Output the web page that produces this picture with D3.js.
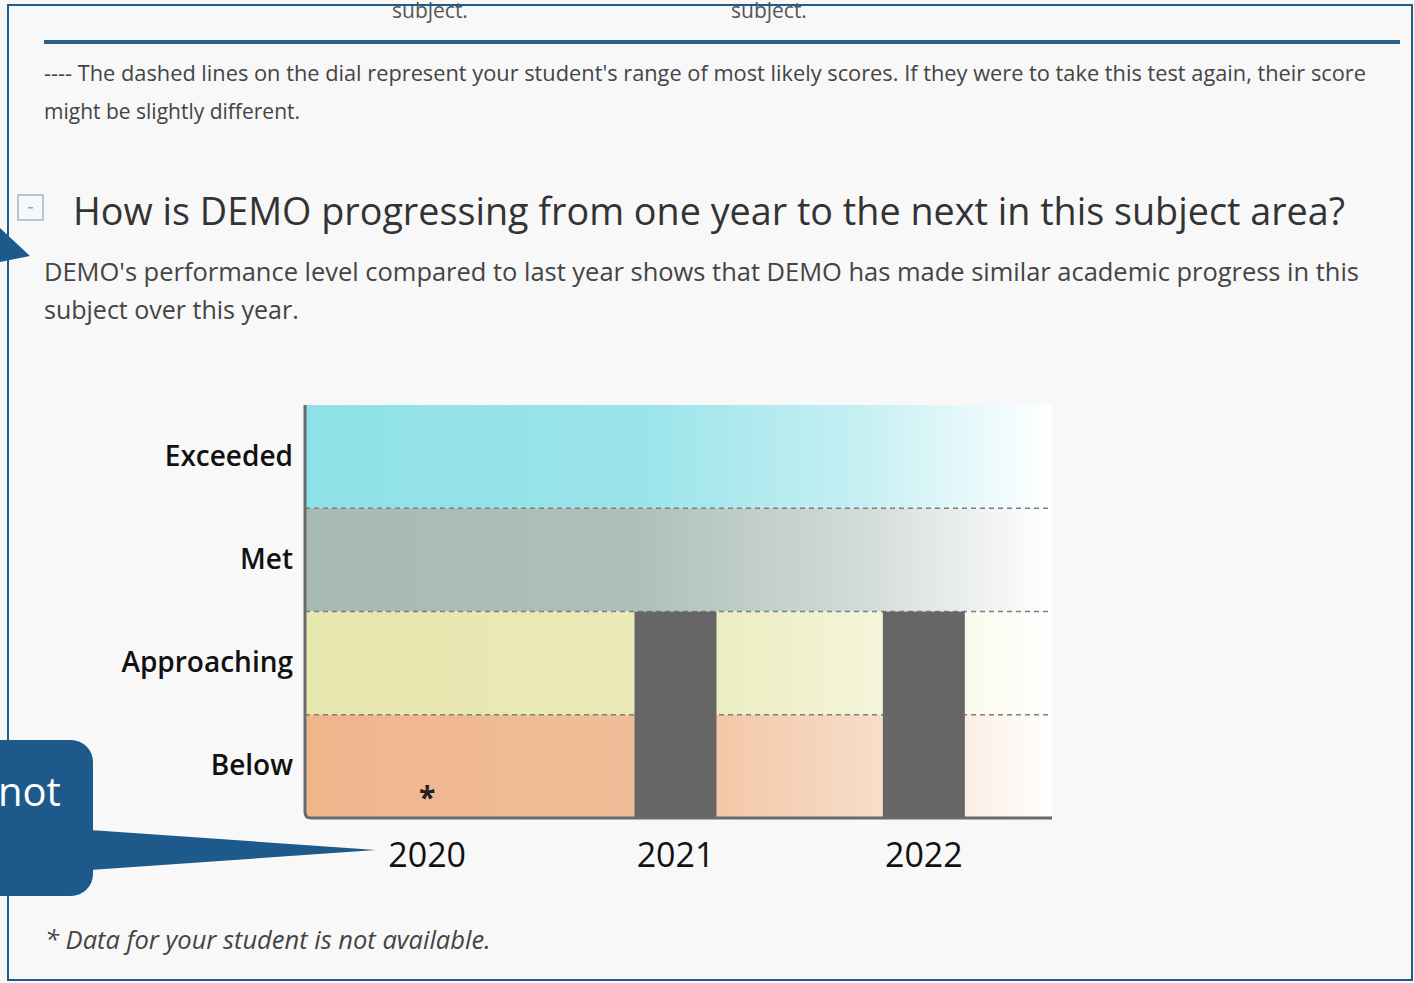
<!DOCTYPE html>
<html lang="en">
<head>
    <meta charset="UTF-8">
    <title>Progress from year to year</title>
    <script src="https://d3js.org/d3.v7.min.js"></script>
    <style>
        body { margin: 0; background: #f7f7f7; font-family: "Open Sans", sans-serif; }
        svg { display: block; }
    </style>
</head>
<body>
    <svg id="chart" width="1414" height="983"></svg>
    <script>
        // data
        const years = ["2020", "2021", "2022"];
        const levels = ["Exceeded", "Met", "Approaching", "Below"];
        const studentLevel = [null, "Approaching", "Approaching"];   // null = not available
        const levelColors = ["#8fe1e8", "#a6b9b3", "#e7e8ae", "#efb68c"];

        const svg = d3.select("#chart");

        // page frame
        svg.append("rect").attr("x", 8).attr("y", 5).attr("width", 1404).attr("height", 975)
            .attr("fill", "#f8f8f8").attr("stroke", "#1f5b8c").attr("stroke-width", 2);

        // clipped text from the section above
        svg.append("text").attr("x", 392).attr("y", 18).attr("font-size", 21).attr("fill", "#555").text("subject.");
        svg.append("text").attr("x", 731).attr("y", 18).attr("font-size", 21).attr("fill", "#555").text("subject.");
        svg.append("rect").attr("x", 44).attr("y", 40).attr("width", 1356).attr("height", 4).attr("fill", "#2c5f8a");

        svg.append("text").attr("x", 44).attr("y", 81).attr("font-size", 21).attr("fill", "#444")
            .attr("textLength", 1322).attr("lengthAdjust", "spacingAndGlyphs")
            .text("---- The dashed lines on the dial represent your student's range of most likely scores. If they were to take this test again, their score");
        svg.append("text").attr("x", 44).attr("y", 119).attr("font-size", 21).attr("fill", "#444")
            .text("might be slightly different.");

        // collapse icon + heading
        svg.append("rect").attr("x", 18).attr("y", 195).attr("width", 25).attr("height", 25)
            .attr("fill", "none").attr("stroke", "#8aa8c0").attr("stroke-width", 1.2);
        svg.append("rect").attr("x", 28).attr("y", 207).attr("width", 5).attr("height", 1.5).attr("fill", "#8aa8c0");
        svg.append("text").attr("x", 73).attr("y", 225).attr("font-size", 38).attr("fill", "#333")
            .attr("textLength", 1272).attr("lengthAdjust", "spacingAndGlyphs")
            .text("How is DEMO progressing from one year to the next in this subject area?");
        svg.append("text").attr("x", 44).attr("y", 281).attr("font-size", 25).attr("fill", "#444")
            .attr("textLength", 1315).attr("lengthAdjust", "spacingAndGlyphs")
            .text("DEMO's performance level compared to last year shows that DEMO has made similar academic progress in this");
        svg.append("text").attr("x", 44).attr("y", 319).attr("font-size", 25).attr("fill", "#444")
            .text("subject over this year.");

        // chart
        const x0 = 305, x1 = 1052, yTop = 405, yBot = 818;
        const x = d3.scaleBand().domain(years).range([303, 1048]);
        const y = d3.scaleBand().domain(levels).range([yTop, yBot]);
        const barW = 82;

        const defs = svg.append("defs");
        levels.forEach((lv, i) => {
            const g = defs.append("linearGradient").attr("id", "grad" + i);
            g.append("stop").attr("offset", "0%").attr("stop-color", levelColors[i]);
            g.append("stop").attr("offset", "45%").attr("stop-color", d3.interpolateRgb(levelColors[i], "#fff")(0.1));
            g.append("stop").attr("offset", "75%").attr("stop-color", d3.interpolateRgb(levelColors[i], "#fff")(0.5));
            g.append("stop").attr("offset", "100%").attr("stop-color", "#ffffff");
        });

        const chart = svg.append("g");
        chart.selectAll(".band").data(levels).enter().append("rect")
            .attr("x", x0).attr("y", d => y(d)).attr("width", x1 - x0).attr("height", y.bandwidth())
            .attr("fill", (d, i) => `url(#grad${i})`);

        chart.selectAll(".divider").data(levels.slice(1)).enter().append("line")
            .attr("x1", x0).attr("x2", x1).attr("y1", d => y(d)).attr("y2", d => y(d))
            .attr("stroke", "#7e7e7e").attr("stroke-width", 1.5).attr("stroke-dasharray", "5,4");

        const data = years.map((yr, i) => ({ year: yr, level: studentLevel[i] }));
        chart.selectAll(".bar").data(data.filter(d => d.level)).enter().append("rect")
            .attr("x", d => x(d.year) + x.bandwidth() / 2 - barW / 2)
            .attr("y", d => y(d.level))
            .attr("width", barW)
            .attr("height", d => yBot - y(d.level))
            .attr("fill", "#666");

        chart.selectAll(".na").data(data.filter(d => !d.level)).enter().append("text")
            .attr("x", d => x(d.year) + x.bandwidth() / 2)
            .attr("y", yBot - 10)
            .attr("text-anchor", "middle").attr("font-size", 30).attr("font-weight", 700).attr("fill", "#222")
            .text("*");

        // axis frame with rounded corner
        chart.append("path")
            .attr("d", `M${x0},${yTop} L${x0},${yBot - 6} Q${x0},${yBot} ${x0 + 6},${yBot} L${x1},${yBot}`)
            .attr("fill", "none").attr("stroke", "#676b6e").attr("stroke-width", 3);

        const yAxis = chart.append("g").attr("transform", `translate(${x0 - 12},0)`)
            .call(d3.axisLeft(y).tickSize(0).tickPadding(0));
        yAxis.select(".domain").remove();
        yAxis.selectAll("text").attr("font-size", 28).attr("font-family", "Open Sans")
            .attr("font-weight", 600).attr("fill", "#111");

        const xAxis = chart.append("g").attr("transform", `translate(0,${yBot + 18})`)
            .call(d3.axisBottom(x).tickSize(0).tickPadding(0));
        xAxis.select(".domain").remove();
        xAxis.selectAll("text").attr("font-size", 34).attr("font-family", "Open Sans")
            .attr("fill", "#111").attr("dy", "0.9em");

        // footnote
        svg.append("text").attr("x", 45).attr("y", 949).attr("font-size", 25.5).attr("font-style", "italic")
            .attr("fill", "#444").text("* Data for your student is not available.");

        // callouts overlapping the page
        const blue = "#1d5a8b";
        svg.append("path").attr("d", "M0,228 L30,256 L0,262 Z").attr("fill", blue);
        svg.append("rect").attr("x", -30).attr("y", 740).attr("width", 123).attr("height", 156).attr("rx", 22).attr("fill", blue);
        svg.append("path").attr("d", "M90,830 L376,850 L90,870 Z").attr("fill", blue);
        svg.append("text").attr("x", -2).attr("y", 806).attr("font-size", 40).attr("fill", "#fff").text("not");
    </script>
</body>
</html>
